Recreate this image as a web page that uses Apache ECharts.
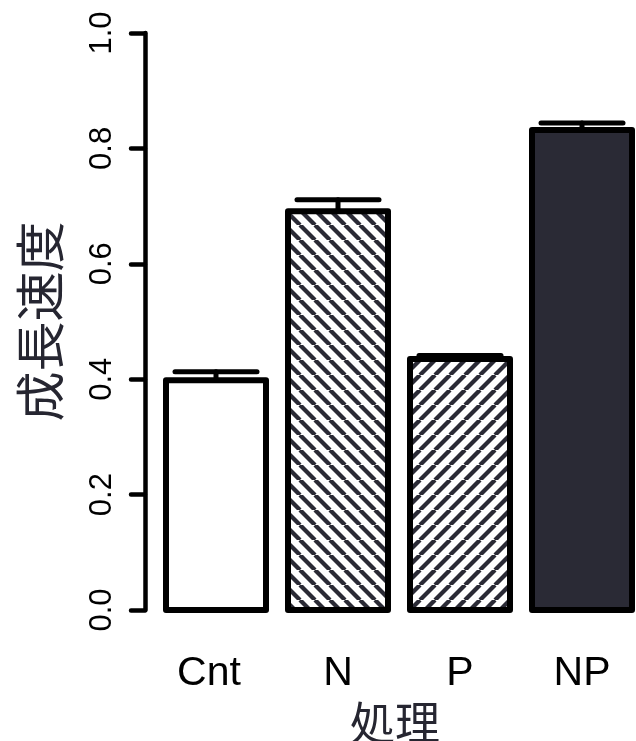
<!DOCTYPE html>
<html>
<head>
<meta charset="utf-8">
<script src="https://cdn.jsdelivr.net/npm/echarts@6/dist/echarts.min.js"></script>
<style>html,body{margin:0;padding:0;background:#fff}#c{width:636px;height:741px}</style>
</head>
<body>
<div id="c"></div>
<script>
const categories = ['Cnt', 'N', 'P', 'NP'];
const means = [0.398, 0.691, 0.435, 0.832];
const errs = [0.015, 0.020, 0.006, 0.012];
const yTicks = [0, 0.2, 0.4, 0.6, 0.8, 1.0];
const xTitle = '処理';
const yTitle = '成長速度';

const DARK = '#2a2a35';
function hatch(dir) {
  const s = 15;
  const c = document.createElement('canvas');
  c.width = s; c.height = s;
  const g = c.getContext('2d');
  g.fillStyle = '#fff'; g.fillRect(0, 0, s, s);
  g.strokeStyle = DARK; g.lineWidth = 4.3;
  for (let k = -1; k <= 1; k++) {
    g.beginPath();
    if (dir === 'back') { g.moveTo(k * s, 0); g.lineTo(k * s + s, s); }
    else { g.moveTo(k * s, s); g.lineTo(k * s + s, 0); }
    g.stroke();
  }
  return { image: c, repeat: 'repeat' };
}
const fills = ['#ffffff', hatch('back'), hatch('fwd'), DARK];

const chart = echarts.init(document.getElementById('c'), null, { renderer: 'canvas' });
chart.setOption({
  animation: false,
  grid: { left: 155, top: 33, width: 488, height: 577, containLabel: false, outerBoundsMode: 'none' },
  xAxis: {
    type: 'category',
    data: categories.map((c, i) => i === 0 ? { value: c, textStyle: { padding: [0, 14, 0, 0] } } : c),
    axisLine: { show: false }, axisTick: { show: false },
    axisLabel: { color: '#000', fontSize: 41, fontFamily: 'Liberation Sans', margin: 43 },
    name: xTitle, nameLocation: 'middle', nameGap: 90,
    nameTextStyle: { color: '#262631', fontSize: 45, fontFamily: 'Noto Sans CJK JP', padding: [0, 8, 0, 0] }
  },
  yAxis: {
    type: 'value', min: 0, max: 1, interval: 0.2, offset: 10,
    splitLine: { show: false },
    axisLine: { show: true, lineStyle: { color: '#000', width: 4.5, cap: 'round' } },
    axisTick: { show: true, length: 14, lineStyle: { color: '#000', width: 4.5, cap: 'round' } },
    axisLabel: { color: '#000', fontSize: 31, fontFamily: 'Liberation Sans', rotate: 90, margin: 27,
      formatter: v => { const t = yTicks.find(x => Math.abs(x - v) < 1e-9); return t === undefined ? '' : t.toFixed(1); } },
    name: yTitle, nameLocation: 'middle', nameGap: 80, nameRotate: 90,
    nameTextStyle: { color: '#262631', fontSize: 50, fontFamily: 'Noto Sans CJK JP' }
  },
  series: [
    {
      type: 'custom',
      data: means.map((v, i) => [i, v]),
      renderItem: (params, api) => {
        const i = api.value(0);
        const top = api.coord([i, api.value(1)]);
        const base = api.coord([i, 0]);
        const w = 100;
        return {
          type: 'rect',
          shape: { x: top[0] - w / 2, y: top[1], width: w, height: base[1] - top[1] },
          style: { fill: fills[params.dataIndex], stroke: '#000', lineWidth: 6, lineJoin: 'round' }
        };
      },
      z: 2
    },
    {
      type: 'custom',
      data: means.map((v, i) => [i, v, v + errs[i]]),
      renderItem: (params, api) => {
        const i = api.value(0);
        const p0 = api.coord([i, api.value(1)]);
        const p1 = api.coord([i, api.value(2)]);
        const hw = 41;
        const st = { stroke: '#000', lineWidth: 5, lineCap: 'round' };
        return { type: 'group', children: [
          { type: 'line', shape: { x1: p0[0], y1: p0[1], x2: p1[0], y2: p1[1] }, style: st },
          { type: 'line', shape: { x1: p1[0] - hw, y1: p1[1], x2: p1[0] + hw, y2: p1[1] }, style: st }
        ] };
      },
      z: 5
    }
  ]
});
</script>
</body>
</html>
